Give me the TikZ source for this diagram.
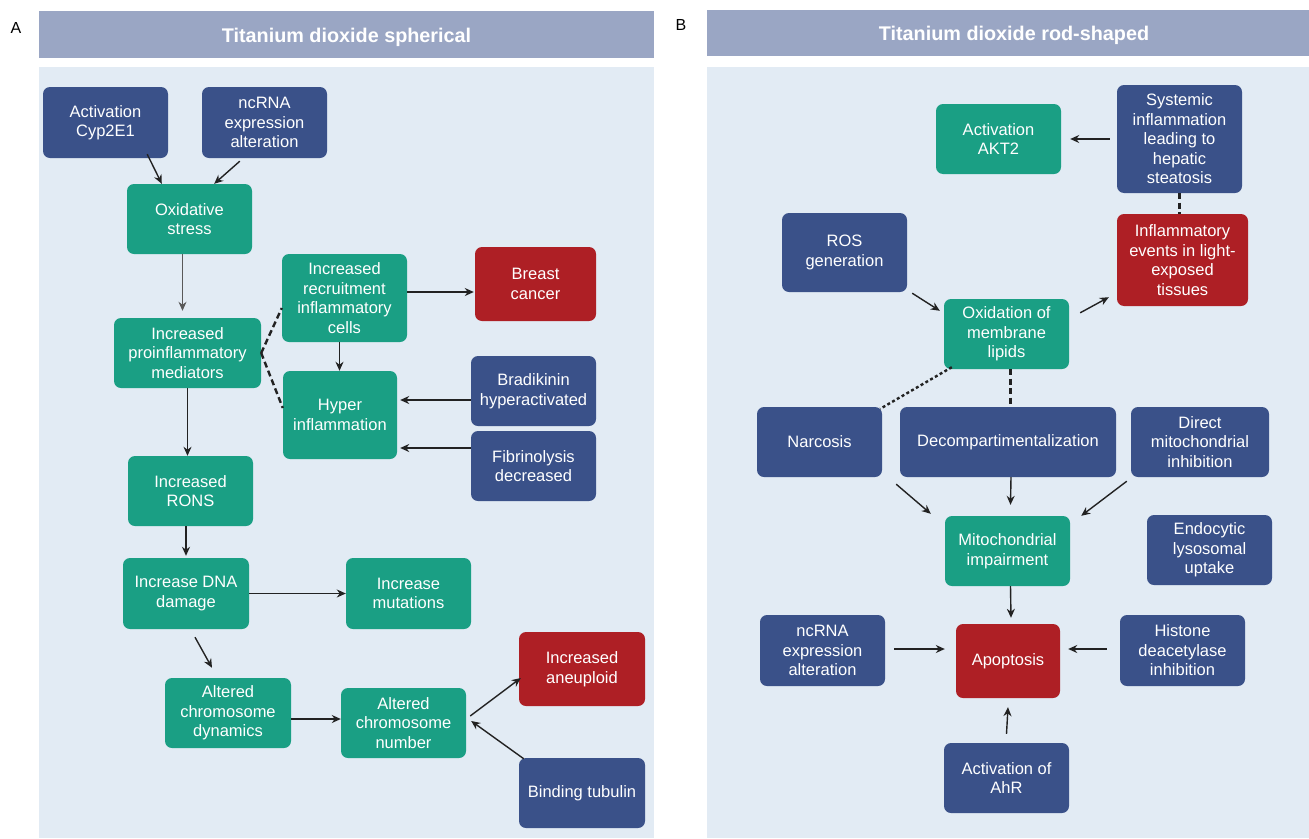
\documentclass[tikz,border=0pt]{standalone}
\usepackage{fontspec}
\setmainfont{Liberation Sans}
\usepackage{xcolor}
\usetikzlibrary{arrows.meta, positioning}
\definecolor{boxblue}{HTML}{3A5189}
\definecolor{boxgreen}{HTML}{1A9F84}
\definecolor{boxred}{HTML}{AE1F25}
\definecolor{headbar}{HTML}{9AA6C4}
\definecolor{panelbg}{HTML}{E2EBF4}
\definecolor{arrowdark}{HTML}{222222}
\tikzset{
    box/.style={rounded corners=7pt, text=white, align=center, inner sep=2pt,
      minimum width=125pt, minimum height=70pt, font=\fontsize{16.5}{19.5}\selectfont},
    bluebox/.style={box, fill=boxblue},
    greenbox/.style={box, fill=boxgreen},
    redbox/.style={box, fill=boxred},
    header/.style={fill=headbar, text=white, inner sep=0pt,
      font=\fontsize{19.8}{22}\selectfont\bfseries},
    arr/.style={-{Stealth[length=9pt, width=8pt]}, line width=1.4pt, draw=arrowdark},
    dashlink/.style={line width=2.4pt, dash pattern=on 6pt off 3.5pt, draw=arrowdark},
    dotlink/.style={line width=2.4pt, dash pattern=on 3pt off 2.5pt, draw=arrowdark}
}

\begin{document}
\begin{tikzpicture}[x=1pt, y=-1pt]
    \useasboundingbox (0,0) rectangle (1309,838);

    % panel A
    \node[font=\fontsize{16}{19}\selectfont] (labA) at (16,28) {A};
    \fill[headbar] (39,11) rectangle (654,58);
    \node[header] (hdA) at (346.5,37) {Titanium dioxide spherical};
    \fill[panelbg] (39,67) rectangle (654,838);

    \node[bluebox, minimum height=71pt] (cyp) at (105.5,122.5) {Activation\\Cyp2E1};
    \node[bluebox, minimum height=71pt] (ncr) at (264.5,122.5) {ncRNA\\expression\\alteration};
    \node[greenbox] (oxs) at (189.5,219) {Oxidative\\stress};
    \node[greenbox, minimum width=147pt] (pim) at (187.5,353) {Increased\\proinflammatory\\mediators};
    \node[greenbox, minimum height=88pt] (rec) at (344.5,298) {Increased\\recruitment\\inflammatory\\cells};
    \node[redbox, minimum width=121pt, minimum height=74pt] (bc) at (535.5,284) {Breast\\cancer};
    \node[greenbox, minimum width=114pt, minimum height=88pt] (hyp) at (340,415) {Hyper\\inflammation};
    \node[bluebox] (bra) at (533.5,391) {Bradikinin\\hyperactivated};
    \node[bluebox] (fib) at (533.5,466) {Fibrinolysis\\decreased};
    \node[greenbox] (rons) at (190.5,491) {Increased\\RONS};
    \node[greenbox, minimum width=126pt, minimum height=71pt] (dna) at (186,593.5) {Increase DNA\\damage};
    \node[greenbox, minimum height=71pt] (mut) at (408.5,593.5) {Increase\\mutations};
    \node[greenbox, minimum width=126pt] (dyn) at (228,713) {Altered\\chromosome\\dynamics};
    \node[greenbox] (num) at (403.5,723) {Altered\\chromosome\\number};
    \node[redbox, minimum width=126pt, minimum height=74pt] (ane) at (582,669) {Increased\\aneuploid};
    \node[bluebox, minimum width=126pt] (tub) at (582,793) {Binding tubulin};

    \draw[arr] ([xshift=-21pt,yshift=4pt]cyp.south east) -- ([xshift=35pt]oxs.north west);
    \draw[arr] ([xshift=38pt,yshift=-3pt]ncr.south west) -- ([xshift=-38pt]oxs.north east);
    \draw[arr, draw=gray!70!black, line width=1.2pt] ([xshift=-7pt]oxs.south) -- ([xshift=-5pt,yshift=7pt]pim.north);
    \draw[arr] (pim.south) -- (pim.south |- rons.north);
    \draw[dashlink] (pim.east) -- ([yshift=-10pt]rec.west);
    \draw[dashlink] (pim.east) -- ([yshift=7pt]hyp.west);
    \draw[arr, shorten >=1pt] ([yshift=6pt]rec.east) -- ([yshift=6pt]rec.east -| bc.west);
    \draw[arr] ([xshift=-5pt]rec.south) -- ([xshift=-5pt]rec.south |- hyp.north);
    \draw[arr, shorten >=3pt] ([yshift=-9pt]bra.west) -- ([yshift=-9pt]bra.west -| hyp.east);
    \draw[arr, shorten >=3pt] ([yshift=18pt]fib.west) -- ([yshift=18pt]fib.west -| hyp.east);
    \draw[arr, shorten >=2pt] (dna.north |- rons.south) -- (dna.north);
    \draw[arr] (dna.east) -- (mut.west);
    \draw[arr] ([xshift=9pt,yshift=-8pt]dna.south) -- ([xshift=-16pt,yshift=10pt]dyn.north);
    \draw[arr] ([yshift=-6pt]dyn.east) -- ([yshift=-6pt]dyn.east -| num.west);
    \draw[arr] ([xshift=4pt,yshift=7pt]num.east) -- ([xshift=2pt,yshift=-9pt]ane.west);
    \draw[arr] ([xshift=5pt,yshift=-1pt]tub.north west) -- ([xshift=5pt,yshift=2pt]num.east);

    % panel B
    \node[font=\fontsize{16}{19}\selectfont] (labB) at (681,25) {B};
    \fill[headbar] (707,10) rectangle (1309,56);
    \node[header] (hdB) at (1014,35) {Titanium dioxide rod-shaped};
    \fill[panelbg] (707,67) rectangle (1309,838);

    \node[greenbox] (akt) at (998.5,139) {Activation\\AKT2};
    \node[bluebox, minimum height=108pt] (sys) at (1179.5,139) {Systemic\\inflammation\\leading to\\hepatic\\steatosis};
    \node[bluebox, minimum height=79pt] (ros) at (844.5,252.5) {ROS\\generation};
    \node[redbox, minimum width=131pt, minimum height=92pt] (inf) at (1182.5,260) {Inflammatory\\events in light-\\exposed\\tissues};
    \node[greenbox] (oxl) at (1006.5,334) {Oxidation of\\membrane\\lipids};
    \node[bluebox] (nar) at (819.5,442) {Narcosis};
    \node[bluebox, minimum width=216pt] (dec) at (1008,442) {Decompartimentalization};
    \node[bluebox, minimum width=138pt] (dmi) at (1200,442) {Direct\\mitochondrial\\inhibition};
    \node[greenbox] (mit) at (1007.5,551) {Mitochondrial\\impairment};
    \node[bluebox] (elu) at (1209.5,550) {Endocytic\\lysosomal\\uptake};
    \node[bluebox, minimum height=71pt] (nc2) at (822.5,650.5) {ncRNA\\expression\\alteration};
    \node[redbox, minimum width=104pt, minimum height=74pt] (apo) at (1008,661) {Apoptosis};
    \node[bluebox, minimum height=71pt] (his) at (1182.5,650.5) {Histone\\deacetylase\\inhibition};
    \node[bluebox] (ahr) at (1006.5,778) {Activation of\\AhR};

    \draw[arr, line width=1.8pt, shorten <=7pt, shorten >=9pt] (sys.west) -- (akt.east);
    \draw[dashlink] (sys.south) -- (sys.south |- inf.north);
    \draw[arr] ([xshift=5pt,yshift=-1pt]ros.south east) -- ([xshift=-4pt,yshift=-12pt]oxl.north west);
    \draw[arr] ([xshift=11pt,yshift=-14pt]oxl.north east) -- ([xshift=-8pt,yshift=9pt]inf.south west);
    \draw[dotlink] ([xshift=8pt,yshift=2pt]oxl.south west) -- ([xshift=-2pt,yshift=-2pt]nar.north east);
    \draw[dashlink] ([xshift=4pt]oxl.south) -- ([xshift=4pt]oxl.south |- dec.north);
    \draw[arr] ([xshift=14pt,yshift=-7pt]nar.south east) -- ([xshift=-14pt,yshift=2pt]mit.north west);
    \draw[arr] ([xshift=3pt]dec.south) -- ([xshift=3pt,yshift=11pt]mit.north);
    \draw[arr] ([xshift=-4pt,yshift=-4pt]dmi.south west) -- ([xshift=11pt]mit.north east);
    \draw[arr] ([xshift=3pt]mit.south) -- ([xshift=3pt,yshift=6pt]apo.north);
    \draw[arr, shorten >=20pt] ([xshift=9pt,yshift=1.5pt]nc2.east) -- ([xshift=9pt,yshift=1.5pt]nc2.east -| apo.west);
    \draw[arr, shorten >=8pt] ([xshift=-13pt,yshift=1.5pt]his.west) -- ([yshift=1.5pt]his.west -| apo.east);
    \draw[arr] ([yshift=9pt]ahr.north) -- ([yshift=-9pt]apo.south);
\end{tikzpicture}
\end{document}
